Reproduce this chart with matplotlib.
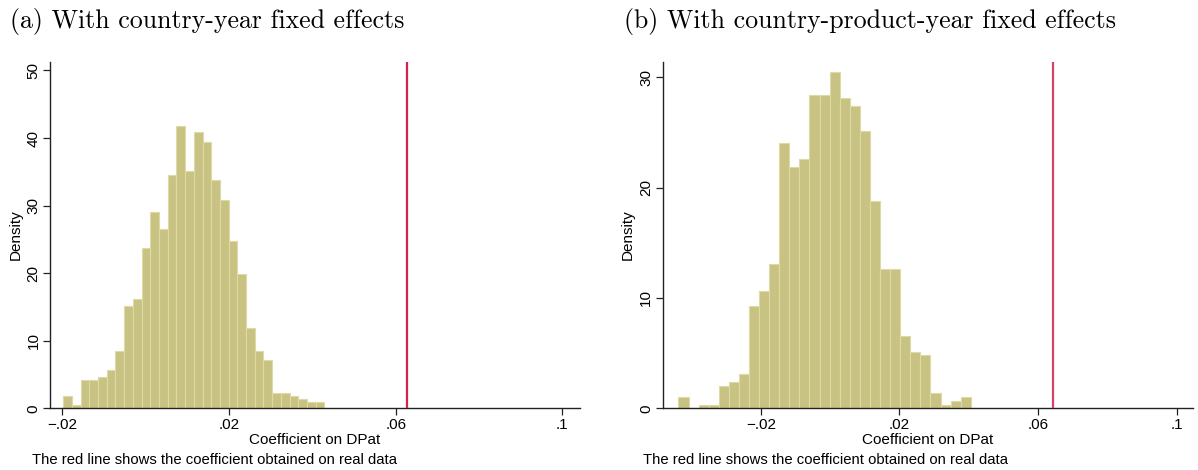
import numpy as np
import matplotlib
matplotlib.use("Agg")
import matplotlib.pyplot as plt

# Panel (a): country-year fixed effects
a_start = -0.0198
a_width = 0.00209
a_density = [1.83, 0.49, 4.2, 4.2, 4.7, 5.7, 8.5, 15.15, 16.2, 23.7,
             29.0, 26.5, 34.6, 41.8, 35.1, 40.9, 39.4, 33.8, 30.8, 24.7,
             19.9, 11.9, 8.5, 7.2, 2.3, 2.3, 1.8, 1.4, 0.94, 0.94]
a_real = 0.0628

# Panel (b): country-product-year fixed effects
b_start = -0.04377
b_width = 0.002908
b_density = [0.99, 0.0, 0.3, 0.3, 2.0, 2.4, 3.1, 9.26, 10.6, 13.05,
             24.0, 21.9, 22.6, 28.4, 28.4, 30.5, 28.1, 27.4, 25.1, 18.8,
             12.66, 12.66, 6.54, 5.1, 4.8, 1.42, 0.3, 0.66, 0.99]
b_real = 0.0642

x_ticks = [-0.02, 0.02, 0.06, 0.1]
x_ticklabels = ["\u2212.02", ".02", ".06", ".1"]

titles = ["(a) With country-year fixed effects",
          "(b) With country-product-year fixed effects"]
xlabel = "Coefficient on DPat"
ylabel = "Density"
note = "The red line shows the coefficient obtained on real data"

bar_color = "#c9c383"
edge_color = "#dedaa6"

plt.rcParams["font.family"] = ["Liberation Sans", "DejaVu Sans"]

fig = plt.figure(figsize=(11.98, 4.70), dpi=100)

panels = [
    dict(rect=[0.042, 0.1313, 0.442, 0.7374], start=a_start, width=a_width,
         dens=a_density, real=a_real, xlim=(-0.0229, 0.1042), ylim=(0, 51.3),
         yticks=[0, 10, 20, 30, 40, 50], red="#d91f4e",
         title_x=0.008, note_x=0.027),
    dict(rect=[0.5532, 0.1313, 0.4424, 0.7374], start=b_start, width=b_width,
         dens=b_density, real=b_real, xlim=(-0.0483, 0.1046), ylim=(0, 31.4),
         yticks=[0, 10, 20, 30], red="#d5426c",
         title_x=0.521, note_x=0.537),
]

for p, title in zip(panels, titles):
    ax = fig.add_axes(p["rect"])
    n = len(p["dens"])
    lefts = p["start"] + p["width"] * np.arange(n)
    ax.bar(lefts, p["dens"], width=p["width"], align="edge",
           color=bar_color, edgecolor=edge_color, linewidth=0.8, zorder=2)
    ax.axvline(p["real"], color=p["red"], linewidth=1.6, zorder=3)
    ax.set_xlim(*p["xlim"])
    ax.set_ylim(*p["ylim"])
    ax.set_xticks(x_ticks)
    ax.set_xticklabels(x_ticklabels)
    ax.set_yticks(p["yticks"])
    ax.set_yticklabels([str(v) for v in p["yticks"]], rotation=90, va="center")
    for s in ["top", "right"]:
        ax.spines[s].set_visible(False)
    for s in ["left", "bottom"]:
        ax.spines[s].set_linewidth(1.0)
        ax.spines[s].set_color("#222222")
    ax.tick_params(axis="both", direction="out", length=5, width=0.9,
                   labelsize=11, colors="#222222", labelcolor="black", pad=2)
    ax.set_xlabel(xlabel, fontsize=11, labelpad=1)
    ax.set_ylabel(ylabel, fontsize=11, labelpad=3)
    fig.text(p["title_x"], 0.955, title, fontfamily="cmr10", fontsize=18.6,
             ha="left", va="center")
    fig.text(p["note_x"], 0.022, note, fontsize=10.7, ha="left", va="center")

fig.savefig("out.png", dpi=100)
